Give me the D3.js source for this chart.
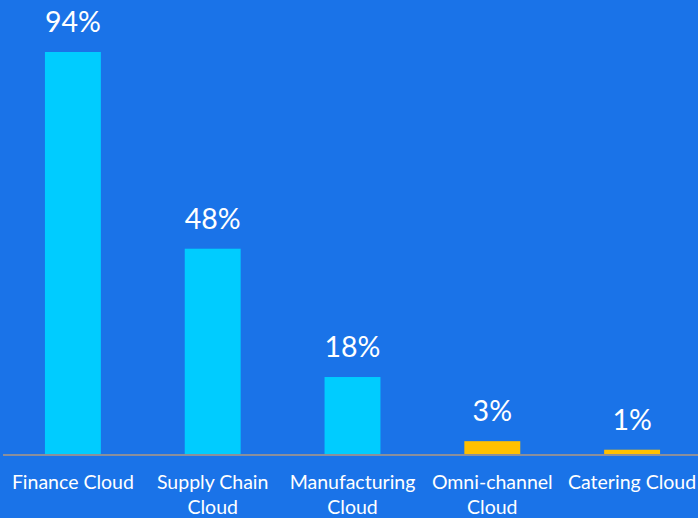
<!DOCTYPE html>
<html>
<head>
<meta charset="utf-8">
<script src="https://cdn.jsdelivr.net/npm/d3@7"></script>
<style>
  html, body { margin: 0; padding: 0; background: #1a73e8; }
  svg { display: block; }
</style>
</head>
<body>
<svg id="chart" width="698" height="518"></svg>
<script>
// Share of customers adopting each cloud product
const categories = ["Finance Cloud", "Supply Chain Cloud", "Manufacturing Cloud", "Omni-channel Cloud", "Catering Cloud"];
const labelLines = [["Finance Cloud"], ["Supply Chain", "Cloud"], ["Manufacturing", "Cloud"], ["Omni-channel", "Cloud"], ["Catering Cloud"]];
const values = [94, 48, 18, 3, 1];
const highlight = [false, false, false, true, true];

const W = 698, H = 518;
const svg = d3.select("#chart");
svg.append("rect").attr("width", W).attr("height", H).attr("fill", "#1a73e8");

const baseY = 454;
const x = d3.scaleBand().domain(categories).range([3, 702]).paddingInner(0.6).paddingOuter(0.3);
const y = d3.scaleLinear().domain([0, 94]).range([baseY, 52]);

const font = "Lato, 'Open Sans', sans-serif";

svg.selectAll("rect.bar")
  .data(values)
  .join("rect")
  .attr("class", "bar")
  .attr("x", (d, i) => x(categories[i]))
  .attr("y", d => y(d))
  .attr("width", x.bandwidth())
  .attr("height", d => baseY - y(d))
  .attr("fill", (d, i) => highlight[i] ? "#ffc000" : "#00ccff");

// baseline
svg.append("line")
  .attr("x1", 3).attr("x2", W)
  .attr("y1", baseY + 1).attr("y2", baseY + 1)
  .attr("stroke", "#8a8f9c").attr("stroke-width", 2);

// value labels
svg.selectAll("text.val")
  .data(values)
  .join("text")
  .attr("class", "val")
  .attr("x", (d, i) => x(categories[i]) + x.bandwidth() / 2)
  .attr("y", d => y(d) - 20)
  .attr("text-anchor", "middle")
  .attr("fill", "#ffffff")
  .attr("font-family", font)
  .attr("font-size", 28.5)
  .text(d => d + "%");

// category labels
const cat = svg.selectAll("text.cat")
  .data(labelLines)
  .join("text")
  .attr("class", "cat")
  .attr("x", (d, i) => x(categories[i]) + x.bandwidth() / 2)
  .attr("y", 489)
  .attr("text-anchor", "middle")
  .attr("fill", "#ffffff")
  .attr("font-family", font)
  .attr("font-size", 19.5);
cat.selectAll("tspan")
  .data(d => d)
  .join("tspan")
  .attr("x", function () { return d3.select(this.parentNode).attr("x"); })
  .attr("dy", (d, i) => i === 0 ? 0 : 25)
  .text(d => d);
</script>
</body>
</html>
